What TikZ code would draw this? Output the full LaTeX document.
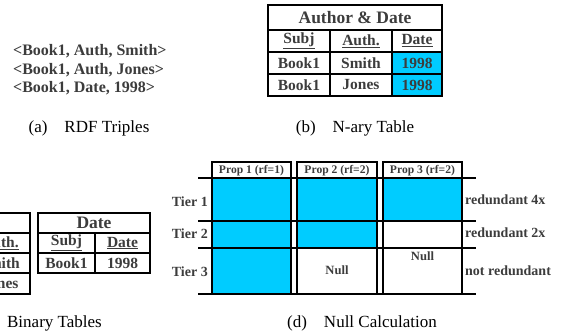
\documentclass[tikz,border=0pt]{standalone}
\usepackage{fontspec}
\setmainfont{Liberation Serif}
\definecolor{cellblue}{RGB}{0,204,255}
\definecolor{txt}{RGB}{60,60,60}
\tikzset{
  tbl/.style={line width=2.2pt},
  dl/.style={line width=1.6pt},
  trip/.style={font=\fontsize{16}{18}\selectfont\bfseries, text=txt, inner sep=0pt, anchor=west},
  ttl/.style={font=\fontsize{17.5}{19}\selectfont\bfseries, text=txt, inner sep=0pt},
  cell/.style={font=\fontsize{15.5}{17}\selectfont\bfseries, text=txt, inner sep=0pt},
  hdr/.style={font=\fontsize{11.6}{13}\selectfont\bfseries, text=txt, inner sep=0pt},
  tier/.style={font=\fontsize{14}{16}\selectfont\bfseries, text=txt, inner sep=0pt},
  nul/.style={font=\fontsize{12.6}{14}\selectfont\bfseries, text=txt, inner sep=0pt},
  capt/.style={font=\fontsize{17}{19}\selectfont, text=black, inner sep=0pt}
}
\begin{document}
\begin{tikzpicture}[x=1pt,y=-1pt]
\useasboundingbox (0,0) rectangle (564,334);

% (a) RDF triples
\node[trip] (a1) at (13,51) {<Book1, Auth, Smith>};
\node[trip] (a2) at (13,70) {<Book1, Auth, Jones>};
\node[trip] (a3) at (13,88.5) {<Book1, Date, 1998>};
\node[capt] (capa) at (89,128) {(a)\quad RDF Triples};

% (b) N-ary table
\fill[cellblue] (392,52) rectangle (442,96);
\draw[tbl] (268,5) rectangle (442,96);
\draw[tbl] (268,30) -- (442,30);
\draw[tbl] (268,52) -- (442,52);
\draw[tbl] (268,74) -- (442,74);
\draw[tbl] (330,30) -- (330,96);
\draw[tbl] (392,30) -- (392,96);
\node[ttl] (bt) at (355,17.5) {Author \& Date};
\node[cell] (bh1) at (299,41) {\underline{Subj}};
\node[cell] (bh2) at (361,41) {\underline{Auth.}};
\node[cell] (bh3) at (417,41) {\underline{Date}};
\node[cell] (b11) at (299,63) {Book1};
\node[cell] (b12) at (361,63) {Smith};
\node[cell] (b13) at (417,63) {1998};
\node[cell] (b21) at (299,85) {Book1};
\node[cell] (b22) at (361,85) {Jones};
\node[cell] (b23) at (417,85) {1998};
\node[capt] (capb) at (355,128) {(b)\quad N-ary Table};

% (c) Binary tables
\draw[tbl] (-90,213) rectangle (30,294);
\draw[tbl] (-90,233) -- (30,233);
\draw[tbl] (-90,253) -- (30,253);
\draw[tbl] (-90,273) -- (30,273);
\draw[tbl] (-30,233) -- (-30,294);
\node[cell] (ch2) at (0,243) {\underline{Auth.}};
\node[cell] (c12) at (0,263) {Smith};
\node[cell] (c22) at (0,283) {Jones};

\draw[tbl] (38,213) rectangle (150,273);
\draw[tbl] (38,233) -- (150,233);
\draw[tbl] (38,253) -- (150,253);
\draw[tbl] (95,233) -- (95,273);
\node[ttl] (dt) at (94,223) {Date};
\node[cell] (dh1) at (66.5,243) {\underline{Subj}};
\node[cell] (dh2) at (122.5,243) {\underline{Date}};
\node[cell] (d11) at (66.5,263) {Book1};
\node[cell] (d12) at (122.5,263) {1998};
\node[capt, anchor=east] (capc) at (102,323) {(c)\quad Binary Tables};

% (d) Null calculation
\fill[cellblue] (212,178) rectangle (291,294);
\fill[cellblue] (297,178) rectangle (377,248);
\fill[cellblue] (383,178) rectangle (462,221);
\draw[dl] (198,178) -- (476,178);
\draw[dl] (198,221) -- (476,221);
\draw[dl] (198,248) -- (476,248);
\draw[dl] (198,294) -- (476,294);
\draw[dl] (212,162) rectangle (291,294);
\draw[dl] (297,162) rectangle (377,294);
\draw[dl] (383,162) rectangle (462,294);
\node[hdr] (p1) at (251.5,170.5) {Prop 1 (rf=1)};
\node[hdr] (p2) at (337,170.5) {Prop 2 (rf=2)};
\node[hdr] (p3) at (422.5,170.5) {Prop 3 (rf=2)};
\node[tier, anchor=east] (t1) at (208,202) {Tier 1};
\node[tier, anchor=east] (t2) at (208,234) {Tier 2};
\node[tier, anchor=east] (t3) at (208,271.5) {Tier 3};
\node[tier, anchor=west] (r1) at (465,200) {redundant 4x};
\node[tier, anchor=west] (r2) at (465,233) {redundant 2x};
\node[tier, anchor=west] (r3) at (465,271) {not redundant};
\node[nul] (n2) at (337,270) {Null};
\node[nul] (n3) at (422.5,256.5) {Null};
\node[capt] (capd) at (362,323) {(d)\quad Null Calculation};
\end{tikzpicture}
\end{document}
